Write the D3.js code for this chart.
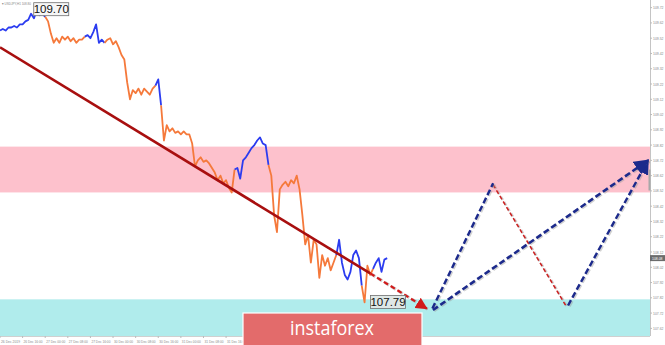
<!DOCTYPE html>
<html>
<head>
<meta charset="utf-8">
<script src="https://cdn.jsdelivr.net/npm/d3@7"></script>
<style>
  body { margin: 0; background: #fff; }
  svg { display: block; font-family: "Liberation Sans", Arial, sans-serif; }
</style>
</head>
<body>
<script>
// hourly closes, USDJPY H1
const prices = [
  109.57,109.58,109.57,109.59,109.59,109.60,109.59,109.61,109.61,109.63,109.64,109.68,109.65,109.70,109.67,109.68,109.66,
  109.63,109.55,109.49,109.52,109.49,109.53,109.51,109.53,109.50,109.52,109.49,109.51,109.51,109.53,
  109.54,109.52,109.56,109.61,109.49,109.51,109.49,
  109.51,109.52,109.48,109.50,109.46,109.41,109.38,109.23,109.12,109.18,109.16,109.19,109.15,109.19,109.17,109.15,109.19,109.21,
  109.25,109.08,
  108.85,108.95,108.91,108.93,108.90,108.91,108.89,108.91,108.89,108.89,108.83,108.68,108.72,108.74,108.71,108.72,108.70,108.67,108.64,108.59,108.62,108.57,108.59,108.54,108.51,108.66,
  108.67,108.60,108.72,108.74,108.77,108.80,108.82,108.85,108.87,108.83,108.82,108.69,
  108.62,108.36,108.25,108.53,108.56,108.58,108.55,108.59,108.57,108.62,108.53,108.36,108.17,108.23,108.05,108.20,108.17,107.95,108.10,108.03,108.08,108.00,108.05,108.10,
  108.20,108.05,107.97,107.94,107.99,108.10,108.13,108.08,107.90,
  107.79,108.03,107.97,108.01,
  108.05,108.08,107.99,108.07,108.08
];
// last bar index of each wave, colour alternates up / down
const waveEnds = [16, 30, 37, 55, 57, 83, 95, 119, 128, 132, 137];
const waveColors = ["#2b3cf0", "#f5793b"];

const highBar = 13, highPrice = 109.70;
const lowBar = 129, lowPrice = 107.79;
const lastPrice = 108.08;

const pinkZone = [108.51, 108.81];
const cyanZone = [107.57, 107.81];

// main trend line and the forecast path
const trendSolid = [[0, 109.46], [131, 107.98]];
const trendArrow = [[131, 107.98], [151, 107.75]];
const upLeg1 = [[153, 107.75], [174.5, 108.57]];
const downLeg = [[174.5, 108.56], [200.5, 107.76]];
const upLeg2 = [[201, 107.77], [229.3, 108.72]];
const upLong = [[153.2, 107.74], [229.3, 108.72]];

const yTickLabels = ["109.72","109.62","109.52","109.42","109.32","109.22","109.12","109.02","108.92","108.82","108.72",
  "108.62","108.52","108.42","108.32","108.22","108.12","108.02","107.92","107.82","107.72","107.62"];
const xTickBars = [0, 8, 16, 24, 32, 40, 48, 56, 64, 72, 80];
const xTickLabels = ["26 Dec 2019","26 Dec 16:00","27 Dec 00:00","27 Dec 08:00","27 Dec 16:00","30 Dec 00:00",
  "30 Dec 08:00","30 Dec 16:00","31 Dec 00:00","31 Dec 08:00","31 Dec 16:00"];

const w = 665, h = 345;
const plotR = 650, plotB = 336;

const x = d3.scaleLinear().domain([0, 230]).range([0, plotR]);
const y = d3.scaleLinear().domain([107.57, 109.77]).range([plotB, 0]);

const svg = d3.select("body").append("svg")
  .attr("width", w)
  .attr("height", h);

const defs = svg.append("defs");
function marker(id, color, size) {
  defs.append("marker")
    .attr("id", id)
    .attr("viewBox", "0 0 10 10")
    .attr("refX", 9).attr("refY", 5)
    .attr("markerUnits", "userSpaceOnUse")
    .attr("markerWidth", size).attr("markerHeight", size)
    .attr("orient", "auto")
    .append("path")
    .attr("d", "M0,0 L10,5 L0,10 Z")
    .attr("fill", color);
}
marker("redHead", "#d11a1a", 12);
marker("blueHead", "#1c2a8c", 15);

// zones
svg.append("rect")
  .attr("x", 0).attr("width", plotR)
  .attr("y", y(pinkZone[1]))
  .attr("height", y(pinkZone[0]) - y(pinkZone[1]))
  .attr("fill", "#fdc1cc");

svg.append("rect")
  .attr("x", 0).attr("width", plotR)
  .attr("y", y(cyanZone[1]))
  .attr("height", y(cyanZone[0]) - y(cyanZone[1]))
  .attr("fill", "#b0ecec");

// price, coloured by wave
const line = d3.line().x(d => x(d[0])).y(d => y(d[1]));
let start = 0;
waveEnds.forEach((end, k) => {
  const seg = d3.range(start, end + 1).map(i => [i, prices[i]]);
  svg.append("path")
    .datum(seg)
    .attr("d", line)
    .attr("fill", "none")
    .attr("stroke", waveColors[k % 2])
    .attr("stroke-width", 1.8)
    .attr("stroke-linejoin", "round");
  start = end;
});

// trend line
svg.append("path")
  .datum(trendSolid)
  .attr("d", line)
  .attr("stroke", "#a80f0f")
  .attr("stroke-width", 2.6)
  .attr("fill", "none");

function dashed(pts, color, width, dash, head) {
  svg.append("path")
    .datum(pts.map(p => [p[0] + 0.35, p[1] - 0.004]))
    .attr("d", line)
    .attr("stroke", "#9a9a9a")
    .attr("stroke-opacity", 0.45)
    .attr("stroke-width", width + 1)
    .attr("stroke-dasharray", dash)
    .attr("fill", "none");
  const p = svg.append("path")
    .datum(pts)
    .attr("d", line)
    .attr("stroke", color)
    .attr("stroke-width", width)
    .attr("stroke-dasharray", dash)
    .attr("fill", "none");
  if (head) p.attr("marker-end", "url(#" + head + ")");
}

dashed(trendArrow, "#d11a1a", 2.2, "5,3", "redHead");
dashed(downLeg, "#cc2020", 1.5, "4,2.5", null);
dashed(upLeg1, "#1c2a8c", 2.4, "6,3", null);
dashed(upLeg2, "#1c2a8c", 2.4, "6,3", "blueHead");
dashed(upLong, "#1c2a8c", 2.6, "6,3", "blueHead");

// symbol caption
svg.append("text")
  .attr("x", 2).attr("y", 5)
  .attr("font-size", 3.8)
  .attr("textLength", 29)
  .attr("lengthAdjust", "spacingAndGlyphs")
  .attr("fill", "#8a8a8a")
  .text("\u25BE USDJPY,H1 108.80");

// high / low labels
function priceBox(bx, by, txt, fill) {
  const g = svg.append("g");
  g.append("rect")
    .attr("x", bx).attr("y", by)
    .attr("width", 35).attr("height", 13)
    .attr("fill", fill)
    .attr("stroke", "#707070")
    .attr("stroke-width", 0.8);
  g.append("text")
    .attr("x", bx + 17.5).attr("y", by + 10.5)
    .attr("text-anchor", "middle")
    .attr("font-size", 11.5)
    .attr("fill", "#111")
    .text(txt);
}
priceBox(x(highBar) - 3, y(highPrice) - 8, highPrice.toFixed(2), "#f6f6f6");
priceBox(x(lowBar) + 6, y(lowPrice) - 7, lowPrice.toFixed(2), "#dfe8e6");

// right price axis
svg.append("line")
  .attr("x1", plotR + 0.5).attr("x2", plotR + 0.5)
  .attr("y1", 0).attr("y2", plotB)
  .attr("stroke", "#c4c4c4");

const yAx = svg.append("g");
yTickLabels.forEach(t => {
  const ty = y(+t);
  yAx.append("line")
    .attr("x1", plotR).attr("x2", plotR + 2)
    .attr("y1", ty).attr("y2", ty)
    .attr("stroke", "#bbb");
  yAx.append("text")
    .attr("x", plotR + 3).attr("y", ty + 1.5)
    .attr("font-size", 4.2)
    .attr("textLength", 10.5)
    .attr("lengthAdjust", "spacingAndGlyphs")
    .attr("fill", "#8a8a8a")
    .text(t);
});

svg.append("rect")
  .attr("x", plotR - 1.5).attr("y", y(108.66))
  .attr("width", 2).attr("height", 21)
  .attr("fill", "#a8a8a8");

svg.append("rect")
  .attr("x", plotR).attr("y", y(lastPrice) - 3)
  .attr("width", 15).attr("height", 6)
  .attr("fill", "#6c6c6c");
svg.append("text")
  .attr("x", plotR + 2).attr("y", y(lastPrice) + 1.5)
  .attr("font-size", 4.2)
  .attr("textLength", 10.5)
  .attr("lengthAdjust", "spacingAndGlyphs")
  .attr("fill", "#fff")
  .text(lastPrice.toFixed(2));

// bottom time axis
svg.append("line")
  .attr("x1", 0).attr("x2", plotR)
  .attr("y1", plotB + 0.5).attr("y2", plotB + 0.5)
  .attr("stroke", "#d0d0d0");

xTickBars.forEach((b, i) => {
  svg.append("line")
    .attr("x1", x(b)).attr("x2", x(b))
    .attr("y1", plotB).attr("y2", plotB + 2)
    .attr("stroke", "#bbb");
  svg.append("text")
    .attr("x", x(b) + 1).attr("y", plotB + 6.5)
    .attr("font-size", 3.6)
    .attr("textLength", 19)
    .attr("lengthAdjust", "spacingAndGlyphs")
    .attr("fill", "#8a8a8a")
    .text(xTickLabels[i]);
});

// logo
svg.append("rect")
  .attr("x", 243).attr("y", 313)
  .attr("width", 179).attr("height", 34)
  .attr("fill", "#e36b6b")
  .attr("stroke", "#fff")
  .attr("stroke-width", 1.2);
svg.append("text")
  .attr("x", 332).attr("y", 335)
  .attr("text-anchor", "middle")
  .attr("font-family", "'Open Sans', sans-serif")
  .attr("font-size", 20)
  .attr("textLength", 84)
  .attr("lengthAdjust", "spacingAndGlyphs")
  .attr("fill", "#fff")
  .text("instaforex");
</script>
</body>
</html>
